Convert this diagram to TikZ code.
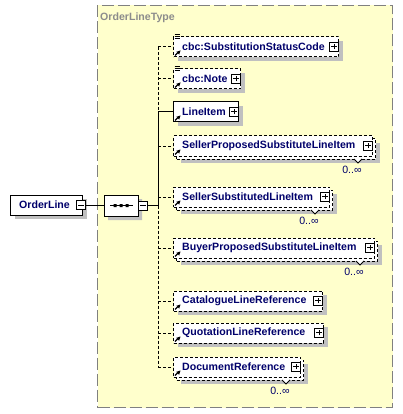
\documentclass[tikz,border=0pt]{standalone}
\usepackage{fontspec}
\setmainfont{Liberation Sans}
\usetikzlibrary{shadows,shapes.misc}
\definecolor{bgyellow}{HTML}{FFFFCC}
\definecolor{framegray}{HTML}{808080}
\definecolor{titlegray}{HTML}{8C8C8C}
\definecolor{navy}{HTML}{00006B}
\definecolor{shadowgray}{HTML}{C0C0C0}
\tikzset{
  dsh/.style={dash pattern=on 3pt off 2pt},
  shad/.style={drop shadow={shadow xshift=4pt,shadow yshift=-4pt,fill=shadowgray,opacity=1}},
  elem/.style={draw,fill=white,line width=1pt,minimum height=20pt,inner sep=0pt,anchor=west},
  etext/.style={inner sep=0pt,anchor=west,text=navy,font=\fontsize{10.6}{12}\selectfont\bfseries},
  mult/.style={inner sep=0pt,text=navy,font=\fontsize{10.6}{12}\selectfont},
  pmbox/.style={draw,fill=white,line width=0.8pt,minimum width=9pt,minimum height=9pt,inner sep=0pt},
  conn/.style={line width=1pt},
}
\newcommand\xplus[1]{\draw[line width=0.8pt] ([xshift=-2.8pt]#1.center)--([xshift=2.8pt]#1.center) ([yshift=-2.8pt]#1.center)--([yshift=2.8pt]#1.center);}
\newcommand\xminus[1]{\draw[line width=0.8pt] ([xshift=-2.8pt]#1.center)--([xshift=2.8pt]#1.center);}
% #1 name, #2 y centre, #3 right x, #4 text, #5 line style, #6 repeated, #7 simple type
\newcommand\xel[7]{%
  \ifnum#6=1
    \node[elem,#5,shad,minimum width={(#3-173)*1pt}] (#1-back) at (176,#2+3) {};
    \node[elem,#5,minimum width={(#3-173)*1pt}] (#1) at (173,#2) {};
    \fill[white] (#3-14-4,#2+13) -- (#3-14,#2+17) -- (#3-14+4,#2+13) -- cycle;
    \draw[line width=0.8pt] (#3-14-4,#2+13) -- (#3-14,#2+17) -- (#3-14+4,#2+13);
    \node[mult] (#1-m) at (#3-20,#2+23.5) {0..∞};
  \else
    \node[elem,#5,shad,minimum width={(#3-173)*1pt}] (#1) at (173,#2) {};
  \fi
  \node[etext] (#1-t) at (182,#2) {#4};
  \node[pmbox] (#1-pm) at (#3-4,#2-0.5) {};
  \xplus{#1-pm}
  \draw[line width=1.3pt] (175,#2+8.5) -- (178,#2+5.5);
  \fill (180.5,#2+3.5) -- (176.3,#2+4.8) -- (179.2,#2+7.7) -- cycle;
  \ifnum#7=1
    \draw[line width=0.9pt] (174.5,#2-13) -- (179.5,#2-13) (174.5,#2-11) -- (179.5,#2-11) (174.5,#2-9) -- (179.5,#2-9);
  \fi
}
\begin{document}
\begin{tikzpicture}[x=1pt,y=-1pt]
\useasboundingbox (0,0) rectangle (403,414);
% complex type frame
\node[draw=framegray,fill=bgyellow,line width=1pt,dash pattern=on 12pt off 4pt,
  minimum width=295pt,minimum height=402pt,inner sep=0pt,anchor=north west] (ctype) at (97,5) {};
\node[inner sep=0pt,anchor=west,text=titlegray,font=\fontsize{10.6}{12}\selectfont\bfseries] (ctitle) at (100,17.5) {OrderLineType};
% root element
\node[elem,shad,minimum width=72pt] (root) at (10,205) {};
\node[etext] (root-t) at (19,205) {OrderLine};
\node[pmbox] (root-pm) at (81,205) {};
\xminus{root-pm}
% sequence compositor
\node[draw,fill=white,line width=1pt,shad,chamfered rectangle,chamfered rectangle xsep=5pt,
  minimum width=34pt,minimum height=21pt,inner sep=0pt] (seq) at (121,205.5) {};
\draw[line width=1pt] (110,205.5) -- (133,205.5);
\fill (113.5,204) rectangle (116.5,207) (119.5,204) rectangle (122.5,207) (125.5,204) rectangle (128.5,207);
\node[pmbox] (seq-pm) at (143,205.5) {};
\xminus{seq-pm}
\draw[conn] (root-pm.east |- seq.west) -- (seq.west);
% children
\xel{ssc}{47}{338}{cbc:SubstitutionStatusCode}{dsh}{0}{1}
\xel{note}{79}{240}{cbc:Note}{dsh}{0}{1}
\xel{li}{112}{238}{LineItem}{}{0}{0}
\xel{spsli}{146}{372}{SellerProposedSubstituteLineItem}{dsh}{1}{0}
\xel{ssli}{197}{329}{SellerSubstitutedLineItem}{dsh}{1}{0}
\xel{bpsli}{248}{374}{BuyerProposedSubstituteLineItem}{dsh}{1}{0}
\xel{clr}{301}{322}{CatalogueLineReference}{dsh}{0}{0}
\xel{qlr}{333}{323}{QuotationLineReference}{dsh}{0}{0}
\xel{dr}{367}{300}{DocumentReference}{dsh}{1}{0}
% bus
\coordinate (bus) at (158,205.5);
\draw[conn] (seq-pm.east) -- (bus);
\draw[conn,dsh] (bus |- ssc.west) -- (bus |- li.west);
\draw[conn] (bus |- li.west) -- (bus);
\draw[conn,dsh] (bus) -- (bus |- dr.west);
\foreach \n in {ssc,note,spsli,ssli,bpsli,clr,qlr,dr}{
  \draw[conn,dsh] (bus |- \n.west) -- (\n.west);
}
\draw[conn] (bus |- li.west) -- (li.west);
\end{tikzpicture}
\end{document}
